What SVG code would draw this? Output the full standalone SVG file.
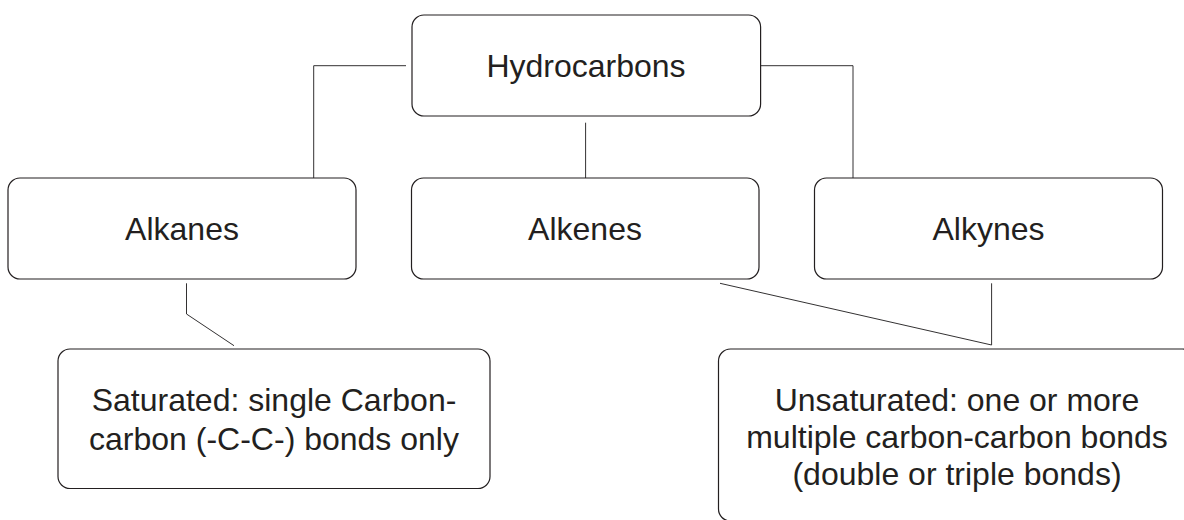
<svg xmlns="http://www.w3.org/2000/svg" width="1184" height="520" viewBox="0 0 1184 520">
<style>
.box{fill:#ffffff;stroke:#231f20;stroke-width:1.2}
.t{font-family:"Liberation Sans",Arial,sans-serif;font-size:32px;fill:#231f20;text-anchor:middle}
.c{fill:none;stroke:#333132;stroke-width:1}
</style>
<rect width="1184" height="520" fill="#ffffff"/>
<g id="connectors">
<polyline class="c" points="406,65.7 313.7,65.7 313.7,178"/>
<polyline class="c" points="760.6,65.7 853,65.7 853,178"/>
<line class="c" x1="585.6" y1="122.7" x2="585.6" y2="178"/>
<polyline class="c" points="186.5,283.3 186.5,314 234,345.7"/>
<line class="c" x1="720" y1="283.3" x2="991.6" y2="345"/>
<line class="c" x1="991.6" y1="283.3" x2="991.6" y2="345"/>
</g>
<g id="hydrocarbons">
<rect class="box" x="412" y="15" width="348.6" height="101" rx="12"/>
<text class="t" x="586" y="77.3">Hydrocarbons</text>
</g>
<g id="alkanes">
<rect class="box" x="8" y="178" width="348" height="101" rx="12"/>
<text class="t" x="182" y="240">Alkanes</text>
</g>
<g id="alkenes">
<rect class="box" x="411.5" y="178" width="347.5" height="101" rx="12"/>
<text class="t" x="585" y="240">Alkenes</text>
</g>
<g id="alkynes">
<rect class="box" x="814.5" y="178" width="348" height="101" rx="12"/>
<text class="t" x="988.5" y="240">Alkynes</text>
</g>
<g id="saturated">
<rect class="box" x="58" y="349" width="432" height="139.5" rx="12"/>
<text class="t" x="274" y="410.7">Saturated: single Carbon-</text>
<text class="t" x="274" y="449.5">carbon (-C-C-) bonds only</text>
</g>
<g id="unsaturated">
<rect class="box" x="718.5" y="349" width="476" height="172" rx="12"/>
<text class="t" x="957" y="411">Unsaturated: one or more</text>
<text class="t" x="957" y="448">multiple carbon-carbon bonds</text>
<text class="t" x="957" y="485">(double or triple bonds)</text>
</g>
</svg>
